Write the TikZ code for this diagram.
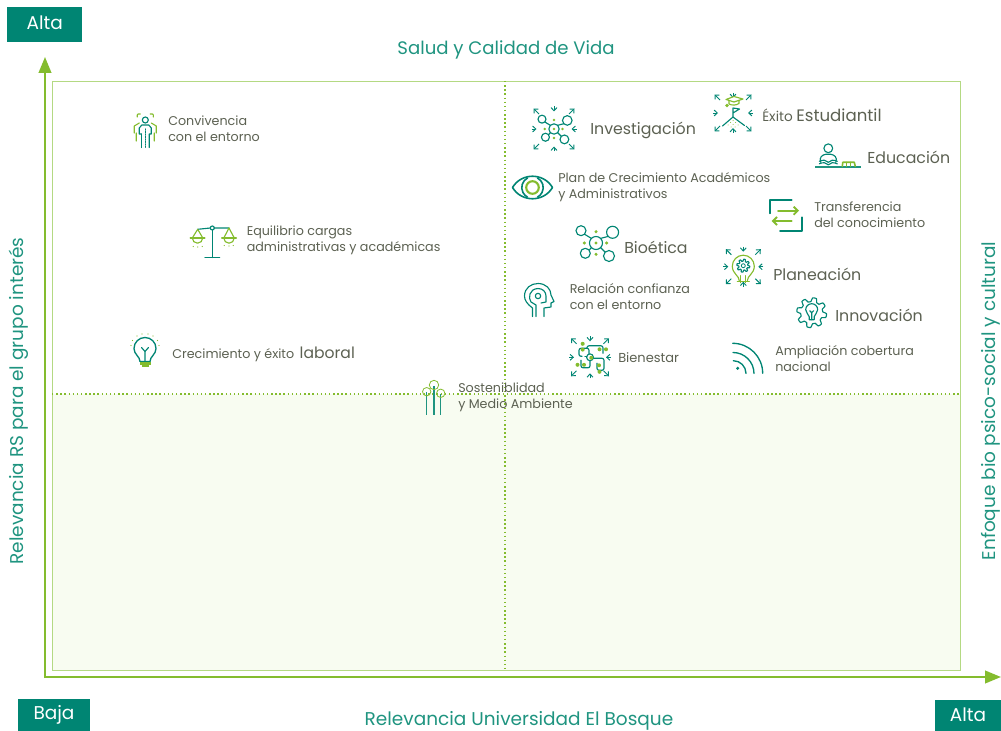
\documentclass[tikz,border=0pt]{standalone}
\usepackage{fontspec}
\setmainfont{Poppins}
\usetikzlibrary{arrows.meta,calc}
\definecolor{teal1}{HTML}{008573}
\definecolor{teal2}{HTML}{1F9480}
\definecolor{lime}{HTML}{84BC2E}
\definecolor{frame}{HTML}{B4D983}
\definecolor{lab}{HTML}{5C6152}
\definecolor{paper}{HTML}{F8FCF1}
\newcommand{\px}[1]{\fontsize{\dimexpr#1pt*3/4\relax}{\dimexpr#1pt*19/20\relax}\selectfont}
\tikzset{
 x=0.75pt,y=-0.75pt,
 tealbox/.style={fill=teal1,text=white,inner sep=0pt,font=\px{18.5}},
 axislab/.style={text=teal2,inner sep=0pt,font=\px{18.5}},
 lab/.style={text=lab,inner sep=0pt,anchor=west,align=left},
 big/.style={lab,font=\px{15.8}},
 small/.style={lab,font=\px{12.7}},
 axisline/.style={lime,line width=1.5pt,-{Triangle[length=12pt,width=9.5pt]}},
 dots/.style={lime,line width=1.1pt,dotted},
 tl/.style={teal1,line width=0.85pt,line cap=round,line join=round},
 gl/.style={lime,line width=0.85pt,line cap=round,line join=round},
 gd/.style={fill=lime,draw=none},
 tarrow/.style={teal1,line width=0.7pt,-{Straight Barb[length=2.4pt,width=4.4pt]}},
 pics/ring/.style 2 args={code={
  \foreach \sx/\sy in {1/1,1/-1,-1/1,-1/-1}
   \draw[tarrow] (\sx*#1-\sx*5.5,\sy*#1-\sy*5.5) -- (\sx*#1,\sy*#1);
  \foreach \a/\b in {1/0,-1/0,0/1,0/-1}
   \draw[tarrow] (\a*#2,\b*#2) -- (\a*#2-\a*5,\b*#2-\b*5);
 }},
 pics/molecule/.style={code={
  \draw[tl] (0,0) circle (6.5);
  \draw[tl] (-15,-12.3) circle (5) (16.6,-10.7) circle (6) (-10.7,10.3) circle (5) (13,13) circle (5.5);
  \draw[tl] (-11.5,-8.8) -- (-4.6,-4.6) (12.2,-6.6) -- (4.6,-4.6) (-6.8,7.2) -- (-4.6,4.6) (9.1,9.1) -- (4.6,4.6);
  \foreach \p in {(0,0),(0,-11.3),(-11.7,0),(10.6,0),(0,11.3)} \fill[gd] \p circle (1.7);
 }},
 pics/gearshape/.style 2 args={code={
  \draw[tl] plot[samples=97,domain=0:360,smooth] (\x:{#1+#2*tanh(3*sin(8*\x))});
 }}
}
\begin{document}
\begin{tikzpicture}
\useasboundingbox (0,0) rectangle (1001,731);
% panel
\fill[paper] (52,394) rectangle (960,670);
\node[draw=frame,line width=1.1pt,minimum width=908*0.75pt,minimum height=589*0.75pt,inner sep=0pt,anchor=north west] (panel) at (52,81) {};
\coordinate (hl) at (52,394); \coordinate (hr) at (960,394);
\coordinate (vt) at (505,81); \coordinate (vb) at (505,670);
\draw[dots] (hl) -- (hr);
\draw[dots] (vt) -- (vb);
% axes
\coordinate (origin) at (45,677); \coordinate (ytip) at (45,57); \coordinate (xtip) at (1001,677);
\draw[axisline] (45,678) -- (ytip);
\draw[axisline] (44.2,677) -- (xtip);
% boxes
\node[tealbox,minimum width=75*0.75pt,minimum height=35*0.75pt,anchor=north west] (altaA) at (7,7) {\raisebox{3.5pt}{Alta}};
\node[tealbox,minimum width=71.5*0.75pt,minimum height=32*0.75pt,anchor=north west] (baja) at (18,699) {\raisebox{2.5pt}{Baja}};
\node[tealbox,minimum width=66.5*0.75pt,minimum height=31*0.75pt,anchor=north west] (altaB) at (934.5,700) {\raisebox{1.5pt}{Alta}};
% axis labels
\node[axislab,font=\px{18.1}] (tTop) at (506,50) {Salud y Calidad de Vida};
\node[axislab,font=\px{18.5}] (tBot) at (519,721) {Relevancia Universidad El Bosque};
\node[axislab,rotate=90] (tLeft) at (19,401) {Relevancia RS para el grupo interés};
\node[axislab,rotate=90] (tRight) at (991,401) {Enfoque bio psico-social y cultural};
% text labels
\node[small] (convivencia) at (168,129) {Convivencia\\con el entorno};
\node[small] (equilibrio) at (246.5,240.5) {Equilibrio cargas\\administrativas y académicas};
\node[small] (crecimiento) at (172,354) {Crecimiento y éxito \,{\px{15.6}laboral}};
\node[small] (sostenibilidad) at (458,397.5) {Sosteniblidad\\y Medio Ambiente};
\node[big] (investigacion) at (590,130) {Investigación};
\node[small,font=\px{13.6}] (exito) at (762,115.5) {Éxito {\px{16.6}Estudiantil}};
\node[big] (educacion) at (867,157) {Educación};
\node[small] (plan) at (558,187.5) {Plan de Crecimiento Académicos\\y Administrativos};
\node[small] (transfer) at (814,215) {Transferencia\\del conocimiento};
\node[big] (bioetica) at (624,247) {Bioética};
\node[big] (planeacion) at (773,274) {Planeación};
\node[small] (relacion) at (569.5,297) {Relación confianza\\con el entorno};
\node[big] (innovacion) at (835,315) {Innovación};
\node[small,font=\px{13}] (bienestar) at (618,358) {Bienestar};
\node[small] (ampliacion) at (775,359) {Ampliación cobertura\\nacional};
% investigacion icon
\pic[scale=.8] at (554,129) {molecule};
\pic at (554,129) {ring={20.5}{22.5}};
% bioetica icon
\pic at (596,243) {molecule};
% exito icon
\begin{scope}[shift={(733,113)}]
\pic at (0,0) {ring={18.5}{20}};
\draw[gl,fill=white] (-7,-13.5) -- (1,-16.5) -- (10,-14) -- (1,-11) -- cycle;
\draw[gl] (-4,-12.5) -- (-4,-9) (6,-12.5) -- (6,-9.5) .. controls (3,-7.5) and (-1,-7.5) .. (-4,-9);
\fill[gd] (-6,-7.5) circle (1.8);
\draw[tl] (0,-5) -- (0,4) (0,-5) -- (6.5,-4) -- (0,0);
\draw[tl] (-10.5,13) -- (0,4) -- (11.5,12.5);
\foreach \p in {(-5,12),(-2.5,9.5),(0,7.5),(2.5,9.5),(5,12),(0,11.5),(-2,14),(2,14)} \fill[gd] \p circle (.5);
\end{scope}
% educacion icon
\begin{scope}[shift={(828.3,148.3)}]
\draw[tl] (0,0) circle (4.4);
\draw[tl] (-7.5,14) .. controls (-9.5,9) and (-6,6.5) .. (-2.5,6) -- (2.5,6) .. controls (6,6.5) and (9.5,9) .. (7.5,14);
\draw[tl] (-9,13) .. controls (-5,11) and (-2,12) .. (0,14) .. controls (2,12) and (5,11) .. (9,13);
\draw[tl] (-9,15.5) .. controls (-5,13.5) and (-2,14.5) .. (0,16.5) .. controls (2,14.5) and (5,13.5) .. (9,15.5);
\draw[teal2,line width=1pt] (-13.3,18.7) -- (32.4,18.7);
\draw[gl,line width=1.2pt] (14,18) -- (14.5,14) -- (26,14) -- (27,18);
\draw[gl] (18,14) -- (18,18) (22,14) -- (22,18);
\end{scope}
% plan eye
\begin{scope}[shift={(532.5,187.5)}]
\draw[tl,line width=1.2pt] (-20,0) .. controls (-11,-15) and (11,-15) .. (20,0) .. controls (11,15) and (-11,15) .. (-20,0) -- cycle;
\draw[tl,line width=1.2pt] (-5,-9.5) arc (-118:-242:10.8);
\draw[tl,line width=1.2pt] (5,-9.5) arc (-62:62:10.8);
\draw[gl,line width=1.6pt] (0,0) circle (6.3);
\end{scope}
% transfer icon
\draw[tl,line width=1.4pt] (791.7,200) -- (770,200) -- (770,213.3);
\draw[tl,line width=1.4pt] (801.7,217.3) -- (801.7,231) -- (780,231);
\draw[gl,line width=1.4pt,-{Straight Barb[length=3pt,width=6pt]}] (778,210.7) -- (799,210.7);
\draw[gl,line width=1.4pt,-{Straight Barb[length=3pt,width=6pt]}] (791.7,221) -- (771.7,221);
% planeacion icon
\begin{scope}[shift={(743.3,266.7)}]
\pic at (0,0) {ring={17.5}{20}};
\draw[gl] (-4,14) .. controls (-4,9) and (-11,7) .. (-11,-.5) arc (180:360:11) .. controls (11,7) and (4,9) .. (4,14);
\draw[gl] (-6,14.5) -- (6,14.5) (-2.5,9) -- (-2.5,16) (2.5,9) -- (2.5,16);
\pic at (0,-1) {gearshape={5.5}{1}};
\draw[tl,line width=.6pt] (0,-1) circle (2);
\end{scope}
% innovacion icon
\begin{scope}[shift={(811.7,312.7)}]
\pic at (0,0) {gearshape={13}{2}};
\draw[tl] (-2.5,7) -- (-2.5,4) .. controls (-3,1.5) and (-6,0) .. (-6,-3) arc (180:360:6) .. controls (6,0) and (3,1.5) .. (2.5,4) -- (2.5,7) -- cycle;
\draw[tl] (0,7) -- (0,0) (-2,-2) -- (0,0) -- (2,-2);
\end{scope}
% ampliacion icon
\fill[teal1] (737.7,368.3) circle (1.7);
\draw[tl,line width=1pt] (733.3,360.7) arc (-90:0:12.7);
\draw[tl,line width=1pt] (733,352.5) arc (-90:0:21);
\draw[tl,line width=1pt] (732.7,343.3) arc (-90:0:30);
% relacion head
\begin{scope}[shift={(538,300)}]
\draw[tl] (-5.5,16.5) -- (-5.5,8) .. controls (-11,4) and (-13.5,0) .. (-13.5,-4) .. controls (-13.5,-12) and (-7,-16.5) .. (0,-16.5) .. controls (8,-16.5) and (13,-11) .. (13,-5) -- (16,1.5) -- (13,3) -- (13,7) -- (6,8) -- (6,16.5);
\draw[tl] (-2,16.5) -- (-2,5) -- (-7,2) .. controls (-10,-2) and (-9,-11) .. (0,-11.5) .. controls (5,-11.5) and (8,-8) .. (8,-4) -- (8,2) -- (3,3);
\draw[tl] (0,-4) circle (2.7);
\end{scope}
% bienestar icon
\begin{scope}[shift={(590,357.3)}]
\pic at (0,0) {ring={19}{21}};
\draw[tl] (0,0) circle (3.4);
\draw[tl,rounded corners=1.5pt] (-1,-3.5) -- (-1,-9) -- (-11,-9) -- (-11,-1) -- (-8,-1);
\draw[tl,rounded corners=1.5pt] (-5,-1) -- (-3.4,-1);
\draw[tl,rounded corners=1.5pt] (-3,-10) -- (-3,-11.5) -- (13,-11.5) -- (13,-4);
\draw[tl,rounded corners=1.5pt] (3.4,1) -- (14,1) -- (14,13) -- (7,13) -- (7,6);
\draw[tl,rounded corners=1.5pt] (0,3.4) -- (0,10.5) -- (-9,10.5) -- (-9,3);
\foreach \p in {(-7.3,-13.5),(-7.3,-7.7),(9.5,-8),(16,-8),(1.3,.5),(-12.5,7.5),(-6,7.5),(9,8),(9.5,14.5)} \fill[gd] \p circle (2);
\end{scope}
% convivencia icon
\begin{scope}[shift={(145.3,120)}]
\draw[tl] (0,0) circle (3);
\draw[tl] (-4,14) -- (-6,14) -- (-6,8) -- (-3.5,5) -- (3.5,5) -- (6,8) -- (6,14) -- (4,14) -- (4,27.5);
\draw[tl] (-4,14) -- (-4,27.5);
\draw[tl,densely dotted] (0,9) -- (0,27.5);
\draw[gl] (-8,-3) .. controls (-9,-6) and (-6,-7) .. (-5,-6);
\draw[gl] (8,-3) .. controls (9,-6) and (6,-7) .. (5,-6);
\draw[gl] (-6,3) -- (-11,6) -- (-11,13) (-9,13) -- (-9,21);
\draw[gl] (6,3) -- (11,6) -- (11,13) (9,13) -- (9,21);
\end{scope}
% equilibrio icon
\begin{scope}[shift={(212.3,228)}]
\draw[tl] (0,0) circle (2);
\draw[tl,line width=1.1pt] (0,2) -- (0,29.3) (-7.3,29.3) -- (7.3,29.3);
\draw[tl] (-14.6,1.3) -- (-2,0) (2,0) -- (16.7,0);
\draw[gl] (-14.6,1.3) -- (-20,10) (-14.6,1.3) -- (-9.5,10) (16.7,0) -- (11.5,10) (16.7,0) -- (22,10);
\draw[gl,line width=1.1pt] (-22,10) -- (-7.5,10) (9.5,10) -- (24,10);
\draw[gl] (-20,10) arc (180:0:5.2);
\draw[gl] (11.5,10) arc (180:0:5.2);
\foreach \p in {(-19,18.5),(-14.5,19),(-10,18.5),(12,17.5),(16.7,18),(21,17.5)} \fill[gd] \p circle (.6);
\end{scope}
% crecimiento bulb
\begin{scope}[shift={(145,349.5)}]
\draw[tl,line width=1pt] (-5,12) .. controls (-5,7) and (-11,5) .. (-11,-1) arc (180:360:11) .. controls (11,5) and (5,7) .. (5,12) -- cycle;
\draw[tl] (0,12) -- (0,2) (-3.5,-2) -- (0,2) -- (3.5,-2);
\fill[lime] (-5.5,13) rectangle (5.5,15.5);
\fill[lime] (-3.5,16) rectangle (3.5,18);
\foreach \p in {(-14,-4),(-12.5,-9),(-8,-13.5),(-3,-15.5),(3,-15.5),(8,-13.5),(12.5,-9),(14,-4)} \fill[gd] \p circle (.6);
\end{scope}
% sostenibilidad trees
\draw[teal2,line width=1pt] (426.7,392) -- (426.7,415);
\draw[teal2,line width=1.6pt] (434,386) -- (434,415);
\draw[teal2,line width=1pt] (440.7,394) -- (440.7,415);
\draw[gl,line width=.6pt] (434,385) circle (4.7);
\draw[gl,line width=.6pt] (426.7,391.7) circle (4.2);
\draw[gl,line width=.6pt] (440.7,393.3) circle (4.2);
\end{tikzpicture}
\end{document}
